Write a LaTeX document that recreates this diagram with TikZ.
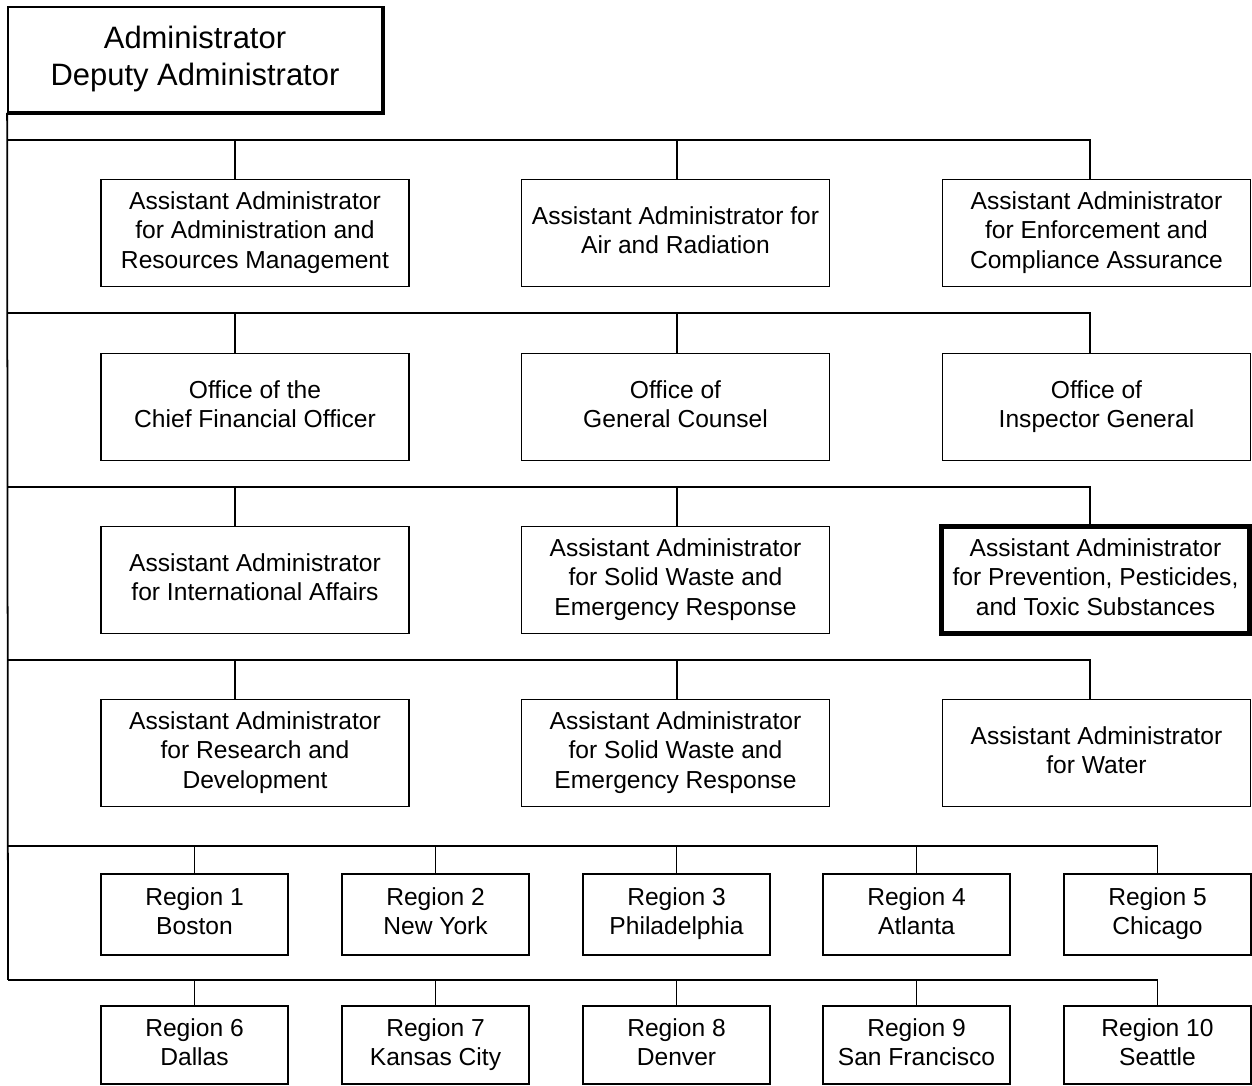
\documentclass[tikz,border=0pt]{standalone}
\usepackage{fontspec}
\setmainfont{Liberation Sans}
\usetikzlibrary{positioning}

\newcommand{\captop}{\rule{0pt}{1.15em}}
\newcommand{\capbot}{\rule[-0.25em]{0pt}{0.25em}}

\begin{document}
\begin{tikzpicture}[
 office/.style={draw,line width=0.5pt,minimum width=3.08cm,minimum height=1.07cm,align=center,inner sep=0pt,font=\fontsize{7}{8.3}\selectfont,execute at begin node=\captop,execute at end node=\capbot},
 region/.style={office,minimum width=1.87cm,minimum height=0.81cm},
 head/.style={draw,line width=0.5pt,minimum width=3.74cm,minimum height=1.05cm,align=center,inner sep=0pt,font=\fontsize{8.8}{10.6}\selectfont,execute at begin node=\captop,execute at end node=\capbot},
 lead/.style={office,line width=1.4pt},
 bus/.style={line width=0.5pt}
]
\useasboundingbox (0,0) rectangle (12.52,-10.86);
% top of the chart
\node[head] (adm) at (1.95,-0.595) {Administrator\\Deputy Administrator};
\draw[line width=1.3pt] (adm.north east) -- (adm.south east) -- (adm.south west);
% offices, four rows of three
\node[office] (aam) at (2.55,-2.33) {Assistant Administrator\\for Administration and\\Resources Management};
\node[office] (aar) at (6.755,-2.33) {Assistant Administrator for\\Air and Radiation};
\node[office] (aec) at (10.965,-2.33) {Assistant Administrator\\for Enforcement and\\Compliance Assurance};
\node[office] (cfo) at (2.55,-4.07) {Office of the\\Chief Financial Officer};
\node[office] (ogc) at (6.755,-4.07) {Office of\\General Counsel};
\node[office] (oig) at (10.965,-4.07) {Office of\\Inspector General};
\node[office] (aia) at (2.55,-5.80) {Assistant Administrator\\for International Affairs};
\node[office] (asw) at (6.755,-5.80) {Assistant Administrator\\for Solid Waste and\\Emergency Response};
\node[lead] (apt) at (10.955,-5.80) {Assistant Administrator\\for Prevention, Pesticides,\\and Toxic Substances};
\node[office] (ard) at (2.55,-7.53) {Assistant Administrator\\for Research and\\Development};
\node[office] (asx) at (6.755,-7.53) {Assistant Administrator\\for Solid Waste and\\Emergency Response};
\node[office] (aw) at (10.965,-7.53) {Assistant Administrator\\for Water};
% regions
\node[region] (r1) at (1.945,-9.145) {Region 1\\Boston}; \node[region] (r2) at (4.355,-9.145) {Region 2\\New York};
\node[region] (r3) at (6.765,-9.145) {Region 3\\Philadelphia}; \node[region] (r4) at (9.165,-9.145) {Region 4\\Atlanta};
\node[region] (r5) at (11.575,-9.145) {Region 5\\Chicago};
\node[region,minimum height=0.78cm] (r6) at (1.945,-10.45) {Region 6\\Dallas}; \node[region,minimum height=0.78cm] (r7) at (4.355,-10.45) {Region 7\\Kansas City};
\node[region,minimum height=0.78cm] (r8) at (6.765,-10.45) {Region 8\\Denver}; \node[region,minimum height=0.78cm] (r9) at (9.165,-10.45) {Region 9\\San Francisco};
\node[region,minimum height=0.78cm] (r10) at (11.575,-10.45) {Region 10\\Seattle};
% buses and drops
\coordinate (b1) at (0.08,-1.40); \coordinate (b2) at (0.08,-3.13); \coordinate (b3) at (0.08,-4.87);
\coordinate (b4) at (0.08,-6.60); \coordinate (b5) at (0.08,-8.46); \coordinate (b6) at (0.08,-9.80);
\coordinate (x1) at (2.35,0); \coordinate (x2) at (6.77,0); \coordinate (x3) at (10.90,0);
\draw[bus] (adm.south west) -- (b6);
\draw[bus] (b1) -| (x3 |- aec.north); \draw[bus] (x1 |- b1) -- (x1 |- aam.north); \draw[bus] (x2 |- b1) -- (x2 |- aar.north);
\draw[bus] (b2) -| (x3 |- oig.north); \draw[bus] (x1 |- b2) -- (x1 |- cfo.north); \draw[bus] (x2 |- b2) -- (x2 |- ogc.north);
\draw[bus] (b3) -| (x3 |- apt.north); \draw[bus] (x1 |- b3) -- (x1 |- aia.north); \draw[bus] (x2 |- b3) -- (x2 |- asw.north);
\draw[bus] (b4) -| (x3 |- aw.north); \draw[bus] (x1 |- b4) -- (x1 |- ard.north); \draw[bus] (x2 |- b4) -- (x2 |- asx.north);
\draw[bus] (b5) -| (r5.north); \draw[bus] (r1.north) -- (r1.north |- b5); \draw[bus] (r2.north) -- (r2.north |- b5);
\draw[bus] (r3.north) -- (r3.north |- b5); \draw[bus] (r4.north) -- (r4.north |- b5);
\draw[bus] (b6) -| (r10.north); \draw[bus] (r6.north) -- (r6.north |- b6); \draw[bus] (r7.north) -- (r7.north |- b6);
\draw[bus] (r8.north) -- (r8.north |- b6); \draw[bus] (r9.north) -- (r9.north |- b6);
\end{tikzpicture}
\end{document}
